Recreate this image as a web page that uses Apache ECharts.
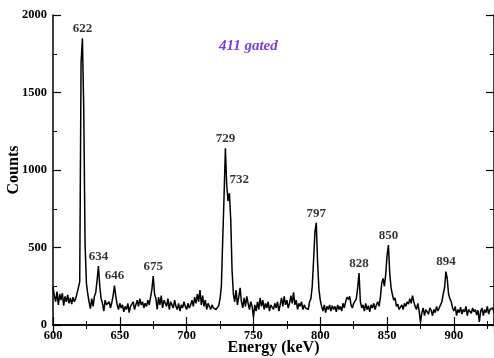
<!DOCTYPE html>
<html>
<head>
<meta charset="utf-8">
<script src="https://cdn.jsdelivr.net/npm/echarts@6/dist/echarts.min.js"></script>
<style>html,body{margin:0;padding:0;background:#fff}#c{width:494px;height:358px}</style>
</head>
<body>
<div id="c"></div>
<script>
// Spectrum: 1 keV channels starting at 600 keV
const startEnergy = 600;
const counts = [
  245, 190, 150, 215, 130, 200, 160, 205, 125, 185,
  150, 195, 140, 175, 135, 180, 150, 170, 165, 240,
  280, 1690, 1850, 1400, 520, 270, 200, 150, 105, 170,
  120, 185, 210, 290, 380, 250, 170, 140, 90, 160,
  130, 120, 150, 110, 145, 190, 255, 185, 130, 100,
  140, 110, 130, 85, 120, 100, 140, 80, 120, 110,
  150, 100, 130, 160, 120, 170, 130, 150, 110, 140,
  120, 160, 130, 180, 230, 315, 200, 170, 100, 180,
  130, 190, 110, 160, 140, 120, 170, 100, 150, 130,
  110, 160, 120, 100, 140, 90, 130, 110, 150, 120,
  100, 140, 110, 130, 160, 120, 180, 140, 200, 150,
  225, 130, 190, 120, 160, 100, 140, 120, 100, 130,
  110, 120, 100, 110, 125, 170, 250, 550, 830, 1140,
  900, 800, 850, 680, 350, 200, 150, 225, 130, 180,
  240, 150, 110, 175, 120, 185, 140, 100, 150, 120,
  50, 130, 90, 150, 100, 175, 120, 160, 100, 140,
  110, 150, 90, 130, 120, 100, 140, 110, 150, 90,
  130, 175, 120, 185, 130, 160, 110, 140, 190, 140,
  210, 130, 160, 100, 140, 120, 150, 100, 130, 110,
  120, 100, 150, 170, 250, 420, 600, 660, 400, 230,
  160, 120, 90, 130, 80, 120, 100, 130, 90, 125,
  100, 120, 85, 130, 100, 120, 90, 140, 110, 150,
  180, 165, 185, 130, 110, 140, 130, 170, 240, 335,
  150, 110, 130, 90, 140, 100, 125, 85, 130, 110,
  140, 100, 130, 150, 120, 180, 270, 300, 250, 330,
  450, 516, 330, 240, 195, 160, 175, 120, 135, 100,
  110, 130, 100, 140, 120, 150, 135, 170, 140, 190,
  150, 120, 100, 140, 90, 15, 80, 110, 60, 100,
  85, 70, 110, 95, 60, 100, 80, 120, 90, 110,
  130, 150, 200, 240, 345, 300, 200, 170, 150, 110,
  90, 120, 60, 100, 80, 115, 70, 100, 85, 120,
  60, 100, 90, 75, 110, 85, 100, 65, 95, 20,
  90, 110, 60, 100, 80, 120, 70, 100, 90, 110,
  80
];
// Peak labels
const peakTexts = ['622', '634', '646', '675', '729', '732', '797', '828', '850', '894'];
const peakEnergies = [622, 634, 646, 675, 729, 732, 797, 829, 851, 894];
const peakCounts = [1850, 380, 255, 315, 1140, 850, 660, 335, 516, 345];
const xTicks = [600, 650, 700, 750, 800, 850, 900];
const yTicks = [0, 500, 1000, 1500, 2000];

const spectrum = counts.map((c, i) => [startEnergy + i, c]);
const peakData = peakEnergies.map((e, i) => {
  const item = { value: [e, peakCounts[i]], name: peakTexts[i] };
  if (peakTexts[i] === '732') {
    item.label = { position: 'right', offset: [-3, -14] };
  }
  return item;
});

const font = 'Liberation Serif, Times New Roman, serif';
const axisLine = { show: true, lineStyle: { color: '#000', width: 1.5 } };
const tickStyle = { inside: true, length: 8, lineStyle: { color: '#000', width: 1.2 } };
const minorStyle = { show: true, splitNumber: 2, length: 4, lineStyle: { color: '#000', width: 1 } };

const chart = echarts.init(document.getElementById('c'), null, { renderer: 'canvas' });
chart.setOption({
  animation: false,
  backgroundColor: '#fff',
  title: {
    text: '411 gated', left: 214, top: 34,
    textStyle: { fontFamily: font, fontStyle: 'italic', fontWeight: 'bold', fontSize: 15, color: '#7b3fe0' }
  },
  grid: { left: 53, right: 0, top: 15, bottom: 33, containLabel: false, outerBoundsMode: 'none' },
  xAxis: [{
    type: 'value', min: 600, max: 930, interval: 50,
    axisLine: axisLine, axisTick: tickStyle, minorTick: minorStyle,
    splitLine: { show: false },
    axisLabel: {
      margin: 4, color: '#000', fontFamily: font, fontWeight: 'bold', fontSize: 12.5,
      showMaxLabel: false,
      formatter: v => xTicks.includes(v) ? String(v) : ''
    },
    name: 'Energy (keV)', nameLocation: 'middle', nameGap: 15, nameMoveOverlap: false,
    nameTextStyle: { fontFamily: font, fontWeight: 'bold', fontSize: 16, color: '#000' }
  }, {
    type: 'value', min: 600, max: 930, interval: 50, position: 'top',
    axisLine: axisLine, axisTick: tickStyle, minorTick: minorStyle,
    splitLine: { show: false }, axisLabel: { show: false }
  }],
  yAxis: [{
    type: 'value', min: 0, max: 2000, interval: 500,
    axisLine: axisLine, axisTick: tickStyle, minorTick: minorStyle,
    splitLine: { show: false },
    axisLabel: {
      margin: 6, color: '#000', fontFamily: font, fontWeight: 'bold', fontSize: 12.5,
      formatter: v => yTicks.includes(v) ? String(v) : ''
    },
    name: 'Counts', nameLocation: 'middle', nameGap: 31, nameRotate: 90, nameMoveOverlap: false,
    nameTextStyle: { fontFamily: font, fontWeight: 'bold', fontSize: 16, color: '#000' }
  }, {
    type: 'value', min: 0, max: 2000, interval: 500, position: 'right',
    axisLine: axisLine, axisTick: tickStyle, minorTick: minorStyle,
    splitLine: { show: false }, axisLabel: { show: false }
  }],
  series: [{
    type: 'line', data: spectrum, showSymbol: false, symbol: 'none',
    lineStyle: { color: '#000', width: 1.5 }, z: 3
  }, {
    type: 'scatter', data: peakData, symbolSize: 0,
    label: {
      show: true, position: 'top', distance: 3, formatter: p => p.name,
      fontFamily: font, fontWeight: 'bold', fontSize: 13, color: '#000'
    },
    z: 4
  }]
});
</script>
</body>
</html>
